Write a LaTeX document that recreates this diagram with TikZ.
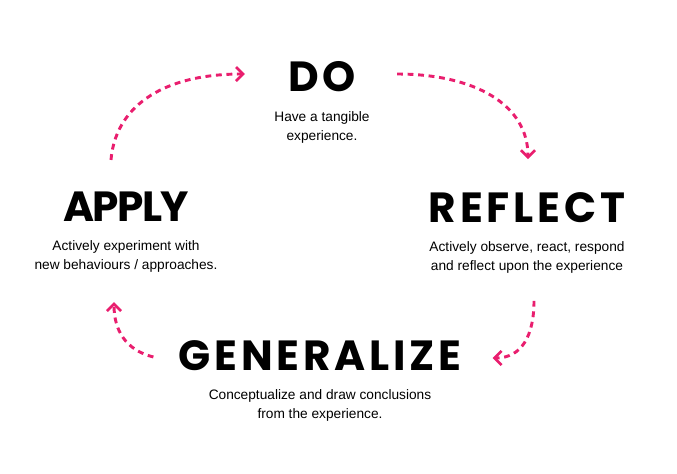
\documentclass[tikz,border=0pt]{standalone}
\usepackage{fontspec}
\setmainfont{Liberation Sans}
\newfontfamily\headfont{Poppins}[LetterSpace=9]
\newfontfamily\headtightfont{Poppins}[LetterSpace=-4]
\usepackage{tikz}
\usetikzlibrary{arrows.meta,positioning}

\definecolor{cyclepink}{RGB}{233,30,110}

\begin{document}
\begin{tikzpicture}[x=0.03cm, y=-0.03cm,
    stage/.style={inner sep=0pt, font=\fontsize{36}{36}\headfont\bfseries},
    tightstage/.style={stage, font=\fontsize{36}{36}\headtightfont\bfseries},
    stagetext/.style={inner sep=0pt, align=center, font=\fontsize{11.7}{16}\selectfont},
    cyclearrow/.style={cyclepink, line width=2.5pt, dash pattern=on 5pt off 4pt,
      -{Straight Barb[length=6pt, width=12pt, line width=2.3pt]}}]
  \useasboundingbox (0,0) rectangle (677,473);

  % Nodes
  \node (do) [stage] at (322,77) {DO};
  \node (dotext) [stagetext, below=16pt of do] {Have a tangible\\experience.};
  \node (reflect) [stage] at (527,207.5) {REFLECT};
  \node (reflecttext) [stagetext, below=16pt of reflect] {Actively observe, react, respond\\and reflect upon the experience};
  \node (generalize) [stage] at (320,355.5) {GENERALIZE};
  \node (generalizetext) [stagetext, below=16pt of generalize] {Conceptualize and draw conclusions\\from the experience.};
  \node (apply) [tightstage] at (126,207) {APPLY};
  \node (applytext) [stagetext, below=16pt of apply] {Actively experiment with\\new behaviours / approaches.};

  % Edges
  \draw[cyclearrow] ([shift={(-15,-32)}]apply.north) .. controls +(4,-50) and +(-87,0) .. ([shift={(-43,-3)}]do.west);
  \draw[cyclearrow] ([shift={(41,-3)}]do.east) .. controls +(77,0) and +(0,-55) .. ([shift={(1,-33)}]reflect.north);
  \draw[cyclearrow] ([shift={(7,78)}]reflect.south) .. controls +(0,35) and +(29,0) .. ([shift={(31,2.5)}]generalize.east);
  \draw[cyclearrow] ([shift={(-25,1.5)}]generalize.west) .. controls +(-28,-7) and +(0,28) .. ([shift={(-12,80)}]apply.south);
\end{tikzpicture}
\end{document}
